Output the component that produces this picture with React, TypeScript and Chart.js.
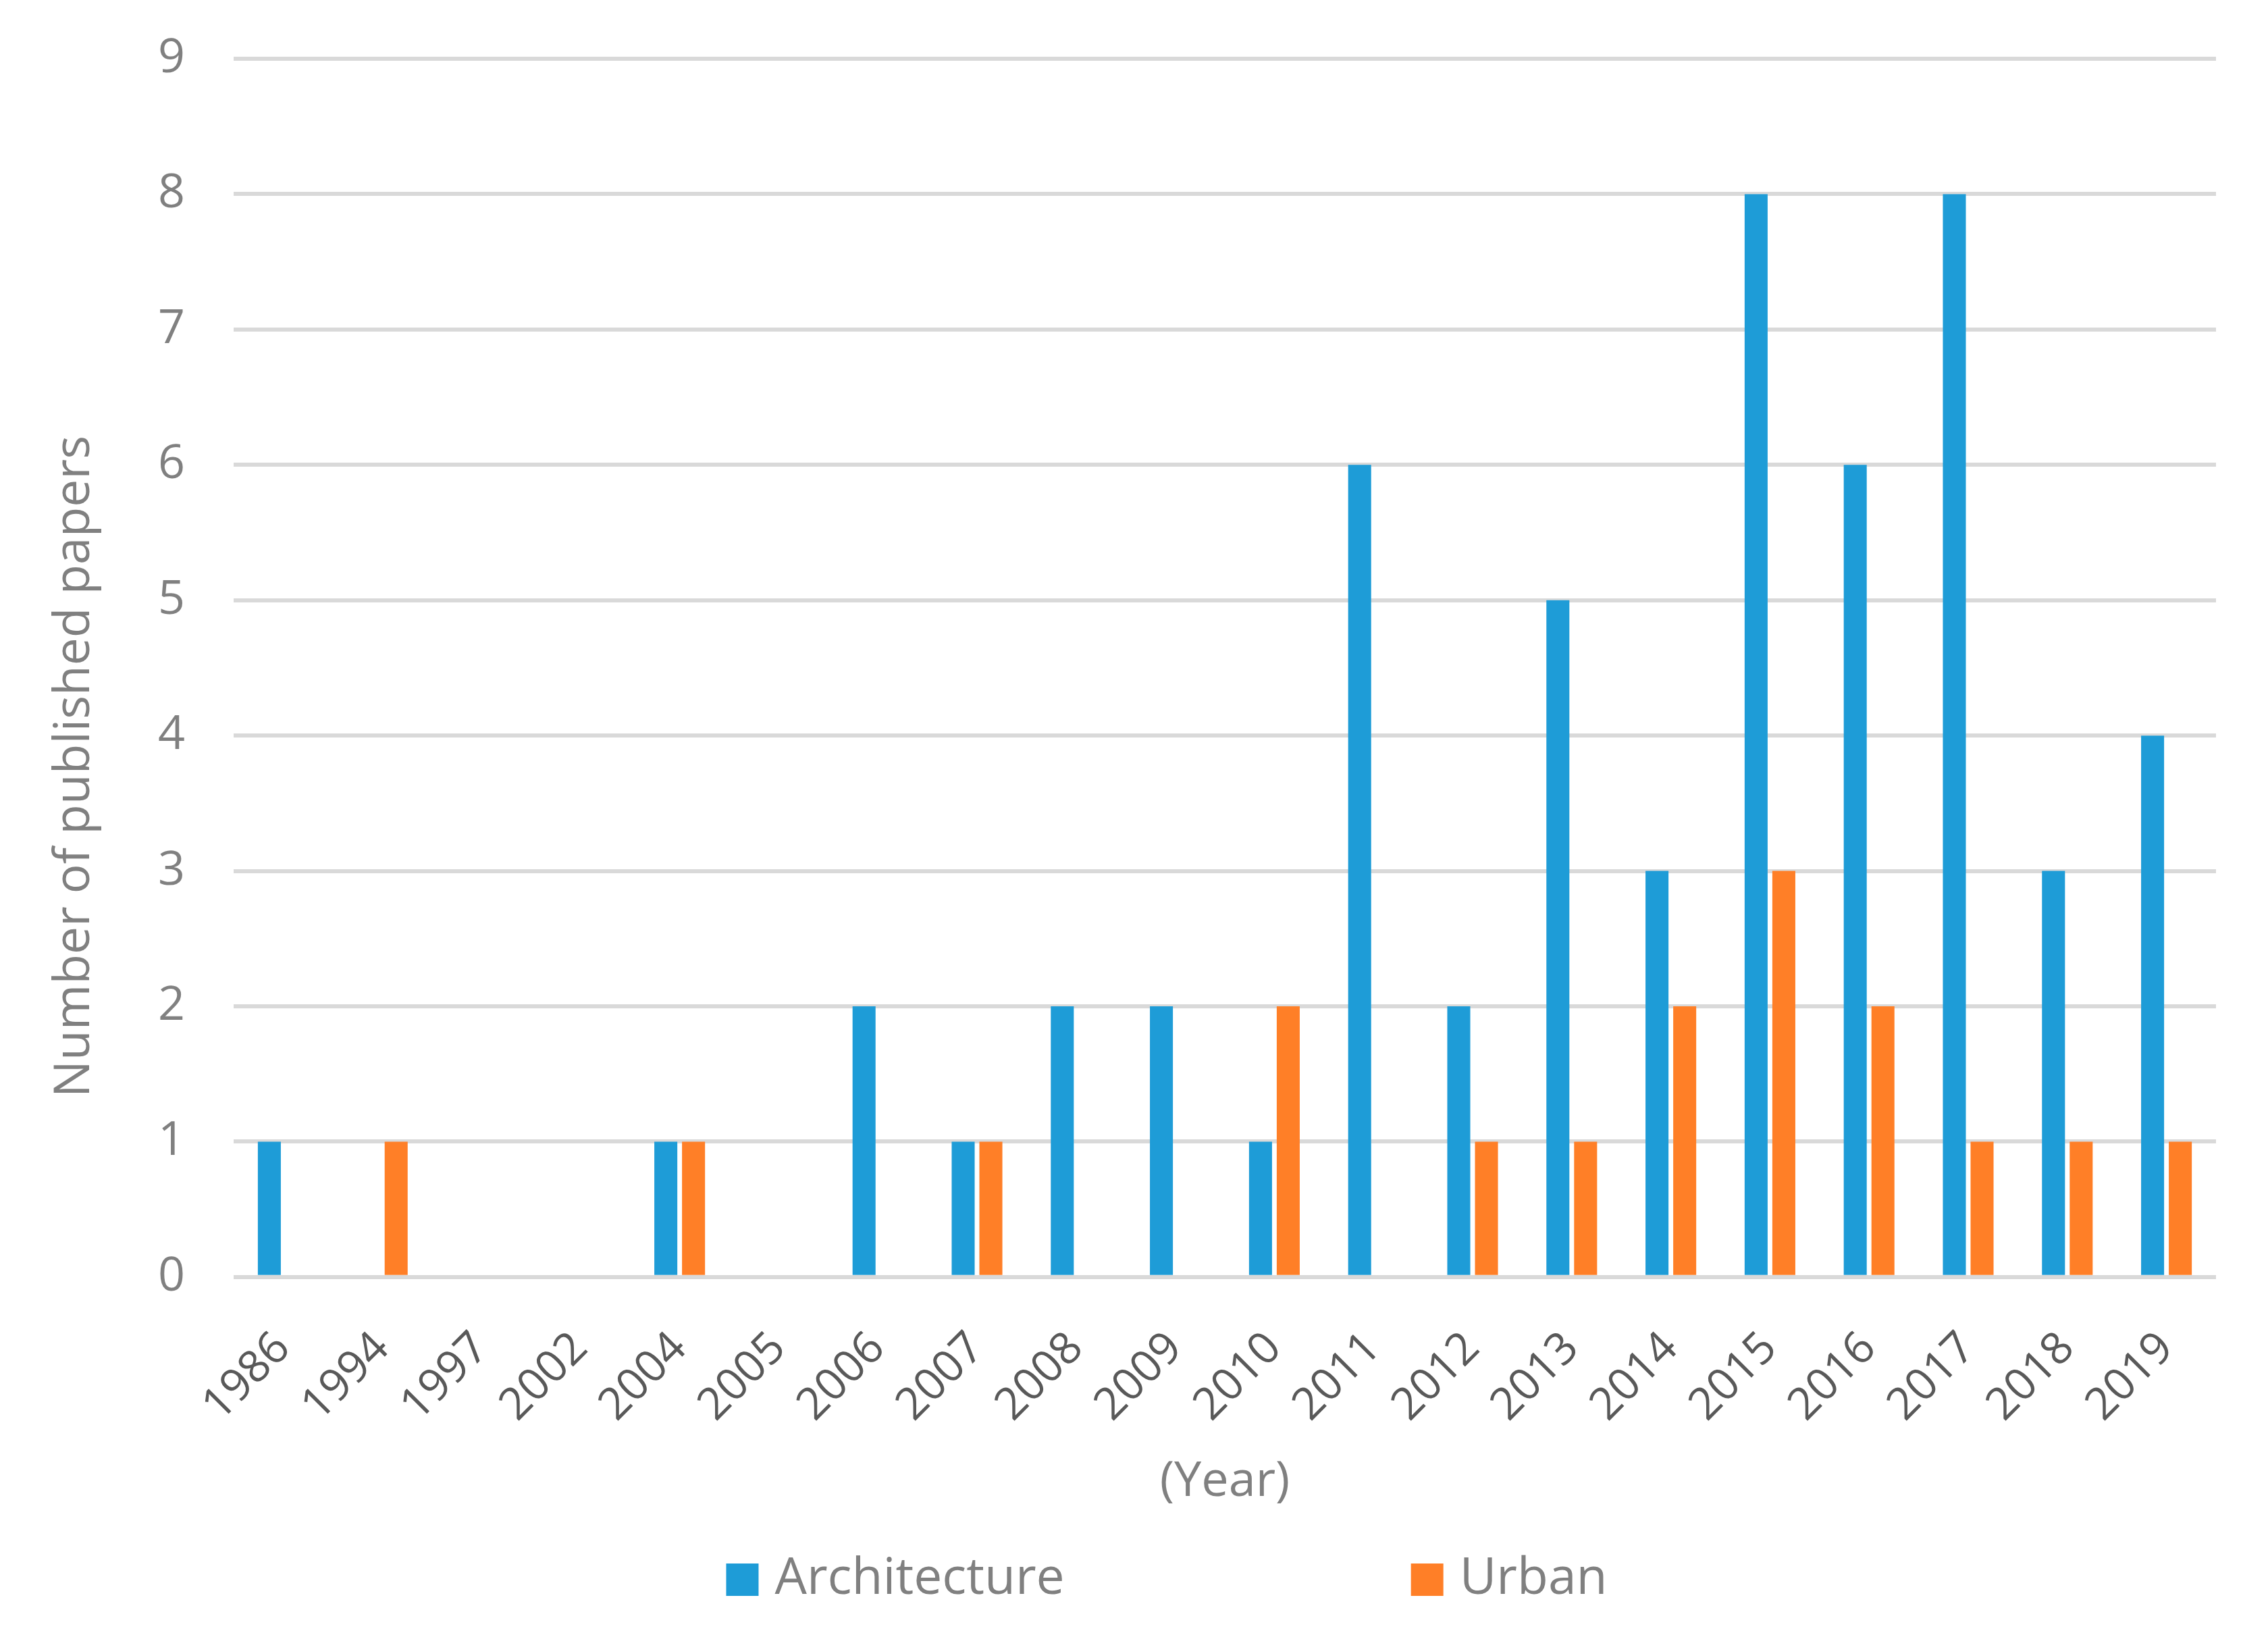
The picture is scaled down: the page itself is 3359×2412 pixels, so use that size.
import React, { useEffect, useRef, type JSX } from 'react';
import { Chart, registerables, type Plugin } from 'chart.js';

Chart.register(...registerables);

const years = ['1986', '1994', '1997', '2002', '2004', '2005', '2006', '2007', '2008', '2009',
    '2010', '2011', '2012', '2013', '2014', '2015', '2016', '2017', '2018', '2019'];
const architecture = [1, 0, 0, 0, 1, 0, 2, 1, 2, 2, 1, 6, 2, 5, 3, 8, 6, 8, 3, 4];
const urban = [0, 1, 0, 0, 1, 0, 0, 1, 0, 0, 2, 0, 1, 1, 2, 3, 2, 1, 1, 1];
const yTicks = [0, 1, 2, 3, 4, 5, 6, 7, 8, 9];
const yTitle = 'Number of published papers';

const W = 3359;
const H = 2412;
const FONT = '"Open Sans", "DejaVu Sans", sans-serif';

// excel-like extras: y title sits a bit low, legend has a wide gap between entries
const excelBits: Plugin<'bar'> = {
    id: 'excelBits',
    afterDraw(chart) {
        const { ctx, chartArea } = chart;
        ctx.save();

        // y axis title
        ctx.font = `73px ${FONT}`;
        ctx.fillStyle = '#808080';
        ctx.textAlign = 'center';
        ctx.textBaseline = 'middle';
        ctx.translate(111, 1135);
        ctx.rotate(-Math.PI / 2);
        ctx.fillText(yTitle, 0, 0);
        ctx.setTransform(1, 0, 0, 1, 0, 0);

        // legend
        const box = 48;
        const gap = 24;
        const itemGap = 513;
        const y = 2339;
        ctx.font = `75px ${FONT}`;
        ctx.textAlign = 'left';
        const sets = chart.data.datasets;
        const widths = sets.map(ds => ctx.measureText(String(ds.label)).width);
        const total = widths.reduce((a, w) => a + box + gap + w, 0) + itemGap * (sets.length - 1);
        let x = (chartArea.left + chartArea.right) / 2 - 86 - total / 2;
        sets.forEach((ds, i) => {
            ctx.fillStyle = ds.backgroundColor as string;
            ctx.fillRect(x, y - box / 2, box, box);
            ctx.fillStyle = '#808080';
            ctx.fillText(String(ds.label), x + box + gap, y);
            x += box + gap + widths[i] + itemGap;
        });
        ctx.restore();
    }
};

const App = (): JSX.Element => {
    const canvasRef = useRef<HTMLCanvasElement | null>(null);

    useEffect(() => {
        document.body.style.margin = '0';
        if (!canvasRef.current) return;
        const ctx = canvasRef.current.getContext('2d');
        if (!ctx) return;

        const chart = new Chart(ctx, {
            type: 'bar',
            data: {
                labels: years,
                datasets: [
                    { label: 'Architecture', data: architecture, backgroundColor: '#1E9CD7' },
                    { label: 'Urban', data: urban, backgroundColor: '#FF7F27' }
                ]
            },
            options: {
                responsive: false,
                animation: false,
                devicePixelRatio: 1,
                categoryPercentage: 0.559,
                barPercentage: 0.83,
                layout: { padding: { top: 87, right: 77, bottom: 174, left: 162 } },
                plugins: {
                    legend: { display: false },
                    tooltip: { enabled: false }
                },
                scales: {
                    x: {
                        grid: { display: false },
                        border: { display: false },
                        ticks: {
                            font: { family: FONT, size: 66 },
                            color: '#595959',
                            maxRotation: 45,
                            minRotation: 45,
                            autoSkip: false,
                            padding: 59
                        },
                        title: {
                            display: true,
                            text: '(Year)',
                            font: { family: FONT, size: 72 },
                            color: '#808080',
                            padding: { top: -28, bottom: 0 }
                        }
                    },
                    y: {
                        min: 0,
                        max: yTicks[yTicks.length - 1],
                        afterBuildTicks: scale => {
                            scale.ticks = yTicks.map(v => ({ value: v }));
                        },
                        grid: { color: '#D9D9D9', lineWidth: 6, drawTicks: false },
                        border: { display: false },
                        ticks: {
                            // small lineHeight keeps the top/bottom label overhang from pushing the plot in
                            font: { family: FONT, size: 70, lineHeight: 0.4 },
                            color: '#808080',
                            padding: 72
                        }
                    }
                }
            },
            plugins: [excelBits]
        });

        return () => {
            chart.destroy();
        };
    }, []);

    return (
        <div style={{ width: W, height: H, background: '#fff' }}>
            <canvas ref={canvasRef} width={W} height={H} style={{ display: 'block', width: W, height: H }}></canvas>
        </div>
    );
};

export default App;
